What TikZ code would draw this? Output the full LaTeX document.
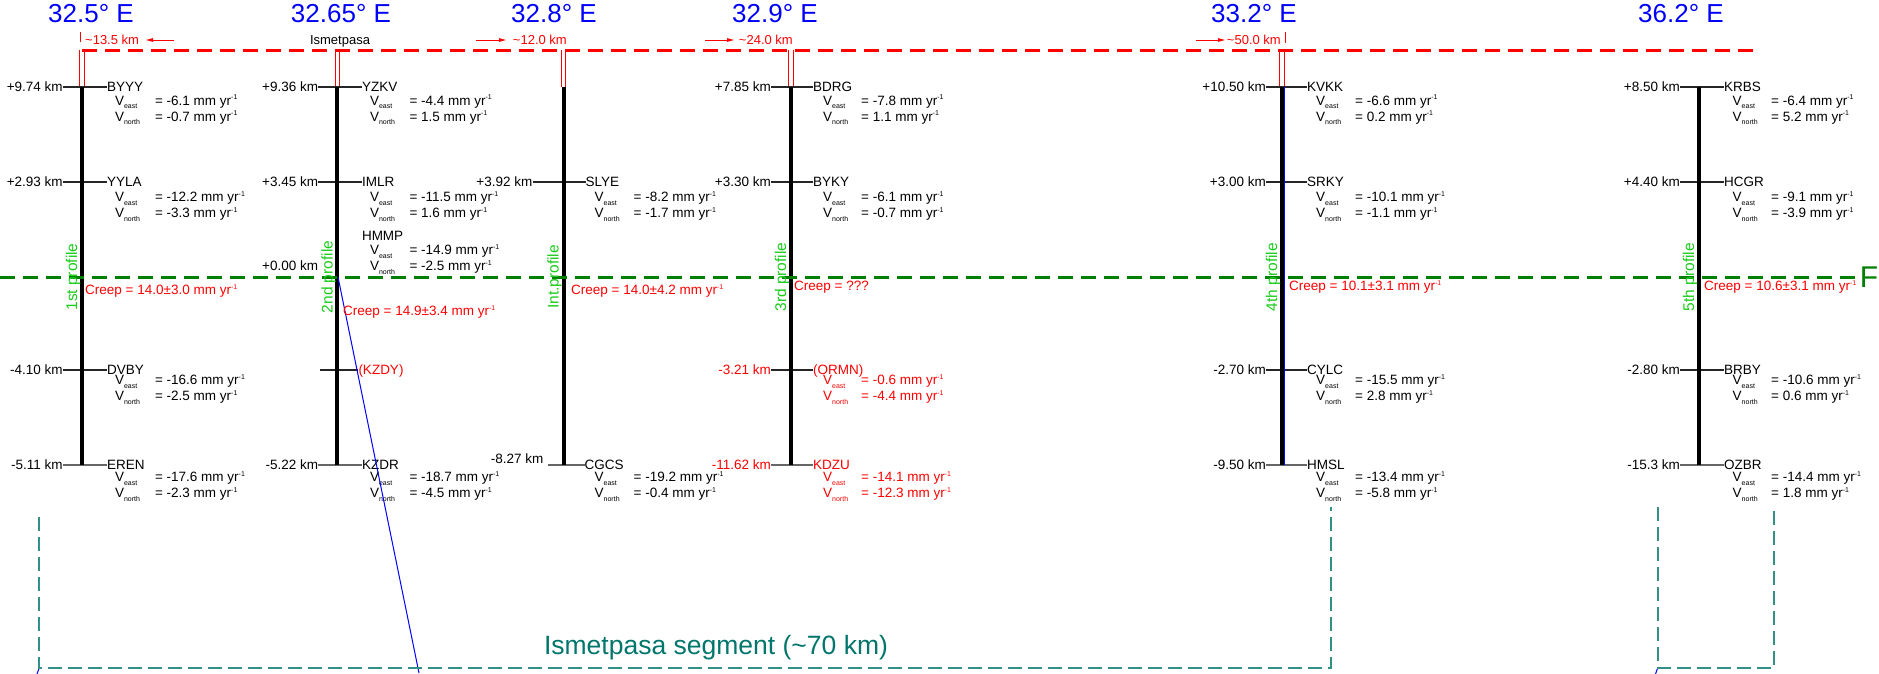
\documentclass[tikz,border=0pt]{standalone}
\usepackage{fontspec}
\setmainfont{Liberation Sans}
\usetikzlibrary{arrows.meta}
\definecolor{lonblue}{RGB}{0,0,250}
\definecolor{fred}{RGB}{255,0,0}
\definecolor{pgreen}{RGB}{25,205,25}
\definecolor{dgreen}{RGB}{0,128,0}
\definecolor{segteal}{RGB}{0,118,108}
\definecolor{segdash}{RGB}{50,145,135}
\definecolor{faultblue}{RGB}{0,0,255}
\newcommand\fs[1]{\fontsize{#1}{#1}\selectfont}
\newcommand\Sup{\raisebox{5.5pt}{\fs{7}-1}}
\newcommand\Vsub[1]{V\raisebox{-3.5pt}{\fs{7}#1}}
\newcommand\Vval[1]{= #1 mm yr\Sup}
\def\kmoff{19}\def\nmoff{25}\def\voff{33}\def\eqoff{73}\def\tickcol{black!85}
\newcommand\Stn[9]{%
  \node[lab,anchor=east,text=#8] (#1km) at ({#2-\kmoff},#3) {#4};
  \node[lab,anchor=west,text=#8] (#1nm) at ({#2+\nmoff},#3) {#5};
  \draw[tick,draw=\tickcol] (#1km.east) -- (#1nm.west);
  \node[lab,anchor=west,text=#8] (#1ve) at ({#2+\voff},{#3+#9}) {\Vsub{east}};
  \node[lab,anchor=west,text=#8] (#1vn) at ({#2+\voff},{#3+#9+16}) {\Vsub{north}};
  \node[lab,anchor=west,text=#8] (#1ee) at ({#2+\eqoff},{#3+#9}) {\Vval{#6}};
  \node[lab,anchor=west,text=#8] (#1en) at ({#2+\eqoff},{#3+#9+16}) {\Vval{#7}};
}
\tikzset{
  lab/.style={font=\fs{13.5},inner sep=0pt,text height=9.7pt,text depth=0pt},
  lon/.style={font=\fs{26},text=lonblue,inner sep=0pt},
  dist/.style={font=\fs{13},text=fred,inner sep=0pt,text height=9.4pt,text depth=0pt},
  tick/.style={draw=black!85,line width=1.1pt},
  bar/.style={draw=black,line width=4pt},
  rdtick/.style={draw=fred,line width=0.8pt},
  rdash/.style={draw=fred,line width=3pt,dash pattern=on 15pt off 8pt},
  gdash/.style={draw=dgreen,line width=3pt,dash pattern=on 15pt off 8pt},
  segline/.style={draw=segdash,line width=1.6pt,dash pattern=on 14pt off 6pt},
  plab/.style={font=\fs{15.5},text=pgreen,rotate=90,anchor=south,inner sep=0pt},
  creep/.style={font=\fs{13.5},text=fred,anchor=west,inner sep=0pt,text height=9.7pt,text depth=0pt},
  rarr/.style={draw=fred,line width=0.9pt,-{Triangle[length=7pt,width=3.5pt]}},
  fault/.style={draw=faultblue,line width=1pt}
}
\begin{document}
\begin{tikzpicture}[x=1pt,y=-1pt]
\useasboundingbox (0,0) rectangle (1879,673);
\clip (0,0) rectangle (1879,673);
\fill[white] (0,0) rectangle (1879,673);

% longitude labels
\node[lon] (lon1) at (91,14) {32.5° E};
\node[lon] (lon2) at (341,14) {32.65° E};
\node[lon] (lon3) at (554,14) {32.8° E};
\node[lon] (lon4) at (775,14) {32.9° E};
\node[lon] (lon5) at (1254,14) {33.2° E};
\node[lon] (lon6) at (1681,14) {36.2° E};

% distance labels
\node[dist,anchor=west] (d135) at (85,40) {\textasciitilde13.5 km};
\coordinate (a1s) at (174,40); \coordinate (a1e) at (146,40);
\draw[rarr] (a1s) -- (a1e);
\node[dist,text=black] (ism) at (340,40) {Ismetpasa};
\node[dist,anchor=east] (d120) at (567,40) {\textasciitilde12.0 km};
\coordinate (a2s) at (476,40); \coordinate (a2e) at (506,40);
\draw[rarr] (a2s) -- (a2e);
\node[dist,anchor=east] (d240) at (793,40) {\textasciitilde24.0 km};
\coordinate (a3s) at (705,40); \coordinate (a3e) at (734,40);
\draw[rarr] (a3s) -- (a3e);
\node[dist,anchor=east] (d500) at (1281,40) {\textasciitilde50.0 km};
\coordinate (a4s) at (1196,40); \coordinate (a4e) at (1225,40);
\draw[rarr] (a4s) -- (a4e);
\draw[rdtick] (80,32) -- (80,42);
\draw[rdtick] (1285,32) -- (1285,43);

% red double ticks from the red dashed line
\foreach \bx in {81.9,337.3,563.5,791,1282}{
  \draw[rdtick] ({\bx-2.3},50) -- ({\bx-2.3},87);
  \draw[rdtick] ({\bx+2.3},50) -- ({\bx+2.3},87);
}
\draw[rdash] (82,50.5) -- (1755,50.5);

% stations, profile 1
\def\kmoff{19}\def\nmoff{25}\def\voff{33}\def\eqoff{73}
\Stn{a1}{81.9}{87}{+9.74 km}{BYYY}{-6.1}{-0.7}{black}{13.5}
\Stn{a2}{81.9}{182}{+2.93 km}{YYLA}{-12.2}{-3.3}{black}{15}
\Stn{a3}{81.9}{370}{-4.10 km}{DVBY}{-16.6}{-2.5}{black}{10}
\def\tickcol{black!60}
\Stn{a4}{81.9}{465}{-5.11 km}{EREN}{-17.6}{-2.3}{black}{12}
\def\tickcol{black!85}

% profile 2
\def\kmoff{19}\def\nmoff{24.5}\def\voff{32.5}\def\eqoff{72}
\Stn{b1}{337.3}{87}{+9.36 km}{YZKV}{-4.4}{1.5}{black}{13.5}
\Stn{b2}{337.3}{182}{+3.45 km}{IMLR}{-11.5}{1.6}{black}{15}
\node[lab,anchor=west] (hmnm) at (361.8,236) {HMMP};
\node[lab,anchor=west] (hmve) at (369.8,250) {\Vsub{east}};
\node[lab,anchor=west] (hmvn) at (369.8,266) {\Vsub{north}};
\node[lab,anchor=west] (hmee) at (409.3,250) {\Vval{-14.9}};
\node[lab,anchor=west] (hmen) at (409.3,266) {\Vval{-2.5}};
\node[lab,anchor=east] (zerokm) at (318.3,266) {+0.00 km};
\coordinate (b3s) at (320.3,370);
\node[lab,anchor=west,text=fred] (b3nm) at (358.3,370) {(KZDY)};
\draw[tick] (b3s) -- (b3nm.west);
\def\tickcol{black!60}
\Stn{b4}{337.3}{465}{-5.22 km}{KZDR}{-18.7}{-4.5}{black}{12}
\def\tickcol{black!85}

% intermediate profile
\def\kmoff{31}\def\nmoff{22}\def\voff{31}\def\eqoff{70}
\Stn{c2}{563.5}{182}{+3.92 km}{SLYE}{-8.2}{-1.7}{black}{15}
\node[lab,anchor=east] (c4km) at (543.5,459) {-8.27 km};
\coordinate (c4s) at (547.5,465);
\node[lab,anchor=west] (c4nm) at (584.5,465) {CGCS};
\draw[tick,draw=black!60] (c4s) -- (c4nm.west);
\node[lab,anchor=west] (c4ve) at (594.5,477) {\Vsub{east}};
\node[lab,anchor=west] (c4vn) at (594.5,493) {\Vsub{north}};
\node[lab,anchor=west] (c4ee) at (633.5,477) {\Vval{-19.2}};
\node[lab,anchor=west] (c4en) at (633.5,493) {\Vval{-0.4}};

% profile 3
\def\kmoff{20}\def\nmoff{22}\def\voff{32}\def\eqoff{70}
\Stn{d1}{791}{87}{+7.85 km}{BDRG}{-7.8}{1.1}{black}{13.5}
\Stn{d2}{791}{182}{+3.30 km}{BYKY}{-6.1}{-0.7}{black}{15}
\Stn{d3}{791}{370}{-3.21 km}{(ORMN)}{-0.6}{-4.4}{fred}{10}
\def\tickcol{black!60}
\Stn{d4}{791}{465}{-11.62 km}{KDZU}{-14.1}{-12.3}{fred}{12}
\def\tickcol{black!85}

% profile 4
\def\kmoff{16}\def\nmoff{25}\def\voff{34}\def\eqoff{73}
\Stn{e1}{1282}{87}{+10.50 km}{KVKK}{-6.6}{0.2}{black}{13.5}
\Stn{e2}{1282}{182}{+3.00 km}{SRKY}{-10.1}{-1.1}{black}{15}
\Stn{e3}{1282}{370}{-2.70 km}{CYLC}{-15.5}{2.8}{black}{10}
\def\tickcol{black!60}
\Stn{e4}{1282}{465}{-9.50 km}{HMSL}{-13.4}{-5.8}{black}{12}
\def\tickcol{black!85}

% profile 5
\def\kmoff{19}\def\nmoff{25}\def\voff{33.5}\def\eqoff{72}
\Stn{f1}{1699}{87}{+8.50 km}{KRBS}{-6.4}{5.2}{black}{13.5}
\Stn{f2}{1699}{182}{+4.40 km}{HCGR}{-9.1}{-3.9}{black}{15}
\Stn{f3}{1699}{370}{-2.80 km}{BRBY}{-10.6}{0.6}{black}{10}
\def\tickcol{black!60}
\Stn{f4}{1699}{465}{-15.3 km}{OZBR}{-14.4}{1.8}{black}{12}
\def\tickcol{black!85}

% profile bars
\foreach \bx in {81.9,337.3,563.5,791,1282,1699}{
  \draw[bar] (\bx,87) -- (\bx,465);
}
\draw[draw=faultblue,line width=1.1pt] (1284.6,87) -- (1284.6,465);

% fault line (green dashed)
\draw[gdash] (0,277) -- (1856,277);
\node[font=\fs{30},text=dgreen,anchor=east,inner sep=0pt] (F) at (1878.5,277) {F};

% blue fault trace
\coordinate (ft1) at (338,277); \coordinate (ft2) at (419,673);
\draw[fault] (ft1) -- (ft2);
\coordinate (ft3) at (39.5,667); \coordinate (ft4) at (37,674);
\draw[fault] (ft3) -- (ft4);
\coordinate (ft5) at (1658,667); \coordinate (ft6) at (1655.5,674);
\draw[fault] (ft5) -- (ft6);

% profile labels
\node[plab] (p1) at (80.5,277) {1st profile};
\node[plab] (p2) at (336,277) {2nd profile};
\node[plab] (pi) at (562,277) {Int.profile};
\node[plab] (p3) at (789.5,277) {3rd profile};
\node[plab] (p4) at (1280.5,277) {4th profile};
\node[plab] (p5) at (1697.5,277) {5th profile};

% creep labels
\node[creep] (cr1) at (85,290) {Creep = 14.0±3.0 mm yr\Sup};
\node[creep] (cr2) at (343,311) {Creep = 14.9±3.4 mm yr\Sup};
\node[creep] (cr3) at (571,290) {Creep = 14.0±4.2 mm yr\Sup};
\node[creep] (cr4) at (794,286) {Creep = ???};
\node[creep] (cr5) at (1289,286) {Creep = 10.1±3.1 mm yr\Sup};
\node[creep] (cr6) at (1704,286) {Creep = 10.6±3.1 mm yr\Sup};

% segment brackets
\draw[segline] (39,517) -- (39,668) -- (1331,668) -- (1331,507);
\draw[segline] (1658,507) -- (1658,668) -- (1774,668) -- (1774,507);
\node[font=\fs{26.5},text=segteal,inner sep=0pt] (segtxt) at (716,648) {Ismetpasa segment (\textasciitilde70 km)};
\end{tikzpicture}
\end{document}
